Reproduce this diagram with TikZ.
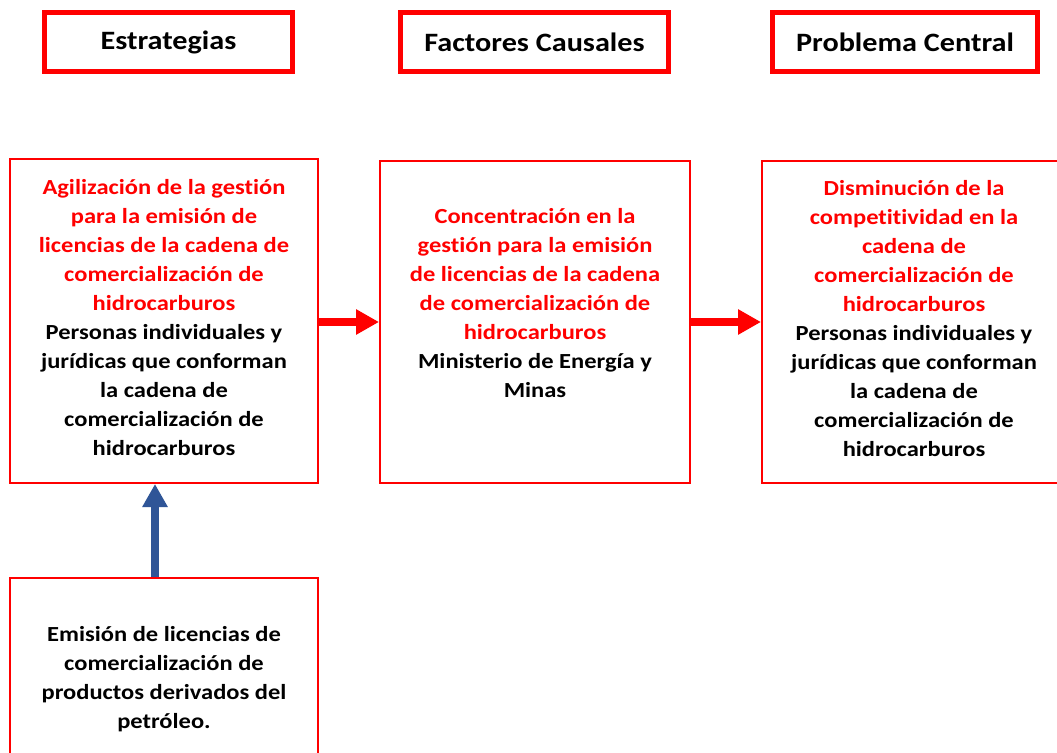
\documentclass[tikz,border=0pt]{standalone}
\usepackage{fontspec}
\setmainfont{Carlito}[FakeStretch=1.14,Ligatures=NoCommon]
\usetikzlibrary{arrows.meta}

\begin{document}
\begin{tikzpicture}[x=1pt,y=-1pt]
\definecolor{fillColor}{RGB}{255,255,255}
\definecolor{redColor}{RGB}{255,0,0}
\definecolor{blueColor}{RGB}{47,85,151}
\definecolor{textColor}{RGB}{0,0,0}
\tikzset{
  headBox/.style={draw=redColor,line width=5pt,inner sep=0pt,minimum height=59pt,
    text=textColor,font=\bfseries\fontsize{26.5}{30}\selectfont},
  mainBox/.style={draw=redColor,line width=2pt,inner sep=0pt},
  mainText/.style={text=textColor,align=center,inner sep=0pt,
    font=\bfseries\fontsize{21.5}{29}\selectfont},
  redArrow/.style={draw=redColor,line width=8pt,-{Triangle[length=23pt,width=24pt]}},
  blueArrow/.style={draw=blueColor,line width=8pt,-{Triangle[length=23pt,width=24pt]}}
}
\path[use as bounding box,fill=fillColor] (0,0) rectangle (1057,752);

% headers
\node[headBox,minimum width=248pt] (hEstr) at (168.5,42) {Estrategias};
\node[headBox,minimum width=268pt] (hFact) at (534.5,42) {Factores Causales};
\node[headBox,minimum width=265pt] (hProb) at (905,42) {Problema Central};

% boxes
\node[mainBox,minimum width=308pt,minimum height=324pt] (estr) at (164,321) {};
\node[mainBox,minimum width=310pt,minimum height=322pt] (fact) at (535,322) {};
\node[mainBox,minimum width=300pt,minimum height=322pt] (prob) at (912,322) {};
\node[mainBox,minimum width=308pt,minimum height=198pt] (emis) at (164,677) {};

% texts
\node[mainText] (estrText) at (164,318) {\textcolor{redColor}{Agilización de la gestión}\\
  \textcolor{redColor}{para la emisión de}\\
  \textcolor{redColor}{licencias de la cadena de}\\
  \textcolor{redColor}{comercialización de}\\
  \textcolor{redColor}{hidrocarburos}\\
  Personas individuales y\\ jurídicas que conforman\\ la cadena de\\
  comercialización de\\ hidrocarburos};
\node[mainText] (factText) at (535,303) {\textcolor{redColor}{Concentración en la}\\
  \textcolor{redColor}{gestión para la emisión}\\
  \textcolor{redColor}{de licencias de la cadena}\\
  \textcolor{redColor}{de comercialización de}\\
  \textcolor{redColor}{hidrocarburos}\\
  Ministerio de Energía y\\ Minas};
\node[mainText] (probText) at (914,319) {\textcolor{redColor}{Disminución de la}\\
  \textcolor{redColor}{competitividad en la}\\
  \textcolor{redColor}{cadena de}\\
  \textcolor{redColor}{comercialización de}\\
  \textcolor{redColor}{hidrocarburos}\\
  Personas individuales y\\ jurídicas que conforman\\ la cadena de\\
  comercialización de\\ hidrocarburos};
\node[mainText] (emisText) at (164,679) {Emisión de licencias de\\ comercialización de\\
  productos derivados del\\ petróleo.};

% arrows
\draw[redArrow] (estr.east |- fact.west) -- (fact.west);
\draw[redArrow] (fact.east) -- (prob.west);
\draw[blueArrow] ([xshift=-9pt]emis.north) -- ([xshift=-9pt]estr.south);
\end{tikzpicture}
\end{document}
